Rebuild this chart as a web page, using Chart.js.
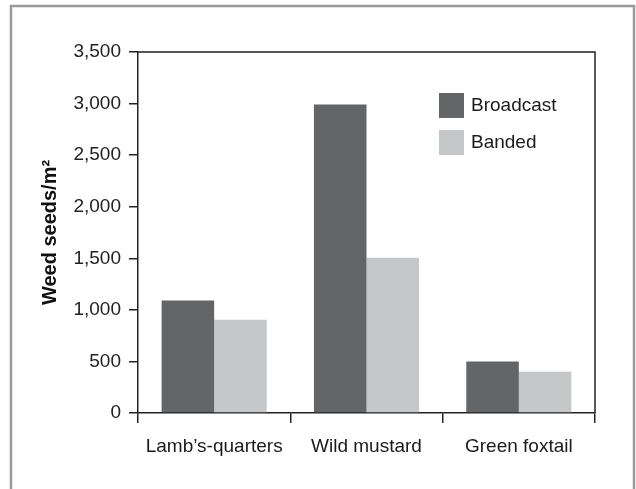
<!DOCTYPE html>
<html lang="en">
<head>
  <meta charset="UTF-8">
  <title>Weed seeds</title>
  <style>
    body {
      margin: 0;
      padding: 0;
      background: #fff;
    }
    .wrap {
      position: relative;
      width: 636px;
      height: 489px;
    }
  </style>
</head>
<body>
  <div class="wrap">
    <canvas id="weedChart" width="636" height="489"></canvas>
  </div>

  <script src="https://cdn.jsdelivr.net/npm/chart.js"></script>
  <script>
    // chart data
    var weeds = ["Lamb\u2019s-quarters", "Wild mustard", "Green foxtail"];
    var broadcast = [1090, 2990, 500];
    var banded = [905, 1505, 400];
    var seriesNames = ["Broadcast", "Banded"];
    var yTicks = [0, 500, 1000, 1500, 2000, 2500, 3000, 3500];

    var darkGray = '#646567';
    var lightGray = '#c6c7c9';

    // box round the plot + outer frame
    var framePlugin = {
      id: 'frame',
      beforeDraw: function (chart) {
        var c = chart.ctx;
        c.save();
        c.strokeStyle = '#9b9b9b';
        c.lineWidth = 2.5;
        c.beginPath();
        c.moveTo(11, 500);
        c.lineTo(11, 6);
        c.lineTo(634, 6);
        c.lineTo(634, 500);
        c.stroke();
        c.restore();
      },
      afterDatasetsDraw: function (chart) {
        var a = chart.chartArea;
        var c = chart.ctx;
        c.save();
        c.strokeStyle = '#222';
        c.lineWidth = 1.5;
        c.beginPath();
        c.moveTo(a.left, a.top);
        c.lineTo(a.right, a.top);
        c.lineTo(a.right, a.bottom);
        c.stroke();
        c.restore();
      }
    };

    // legend drawn inside the plot
    var boxLegend = {
      id: 'boxLegend',
      afterDraw: function (chart) {
        var c = chart.ctx;
        c.save();
        c.font = '19px "Liberation Sans", Arial, sans-serif';
        c.textBaseline = 'middle';
        chart.data.datasets.forEach(function (ds, i) {
          var y = 93 + i * 37;
          c.fillStyle = ds.backgroundColor;
          c.fillRect(439, y, 25, 25);
          c.fillStyle = '#1a1a1a';
          c.fillText(ds.label, 471, y + 13);
        });
        c.restore();
      }
    };

    var ctx = document.getElementById('weedChart').getContext('2d');
    var weedChart = new Chart(ctx, {
      type: 'bar',
      data: {
        labels: weeds,
        datasets: [{
          label: seriesNames[0],
          data: broadcast,
          backgroundColor: darkGray,
          barPercentage: 1,
          categoryPercentage: 0.69
        }, {
          label: seriesNames[1],
          data: banded,
          backgroundColor: lightGray,
          barPercentage: 1,
          categoryPercentage: 0.69
        }]
      },
      options: {
        responsive: false,
        animation: false,
        layout: {
          padding: { left: 0, right: 41, top: 52, bottom: 0 }
        },
        plugins: {
          legend: { display: false },
          tooltip: { enabled: false }
        },
        scales: {
          x: {
            grid: {
              offset: true,
              drawOnChartArea: false,
              drawTicks: true,
              tickLength: 10,
              color: '#222',
              lineWidth: 1.5
            },
            border: { color: '#222', width: 1.5 },
            ticks: {
              color: '#1a1a1a',
              padding: 12,
              maxRotation: 0,
              font: { family: '"Liberation Sans", Arial, sans-serif', size: 19 }
            },
            afterFit: function (scale) { scale.height = 76; }
          },
          y: {
            min: 0,
            max: 3500,
            afterBuildTicks: function (scale) {
              scale.ticks = yTicks.map(function (v) { return { value: v }; });
            },
            grid: {
              drawOnChartArea: false,
              drawTicks: true,
              tickLength: 9,
              color: '#222',
              lineWidth: 1.5
            },
            border: { color: '#222', width: 1.5 },
            ticks: {
              color: '#222',
              padding: 8,
              font: { family: '"Liberation Sans", Arial, sans-serif', size: 19 },
              callback: function (v) { return v.toLocaleString('en-US'); }
            },
            title: {
              display: true,
              text: 'Weed seeds/m\u00b2',
              color: '#111',
              padding: { top: 38, bottom: 0 },
              font: { family: '"Liberation Sans", Arial, sans-serif', size: 20, weight: 'bold' }
            },
            afterFit: function (scale) { scale.width = 138; }
          }
        }
      },
      plugins: [framePlugin, boxLegend]
    });
  </script>
</body>
</html>
